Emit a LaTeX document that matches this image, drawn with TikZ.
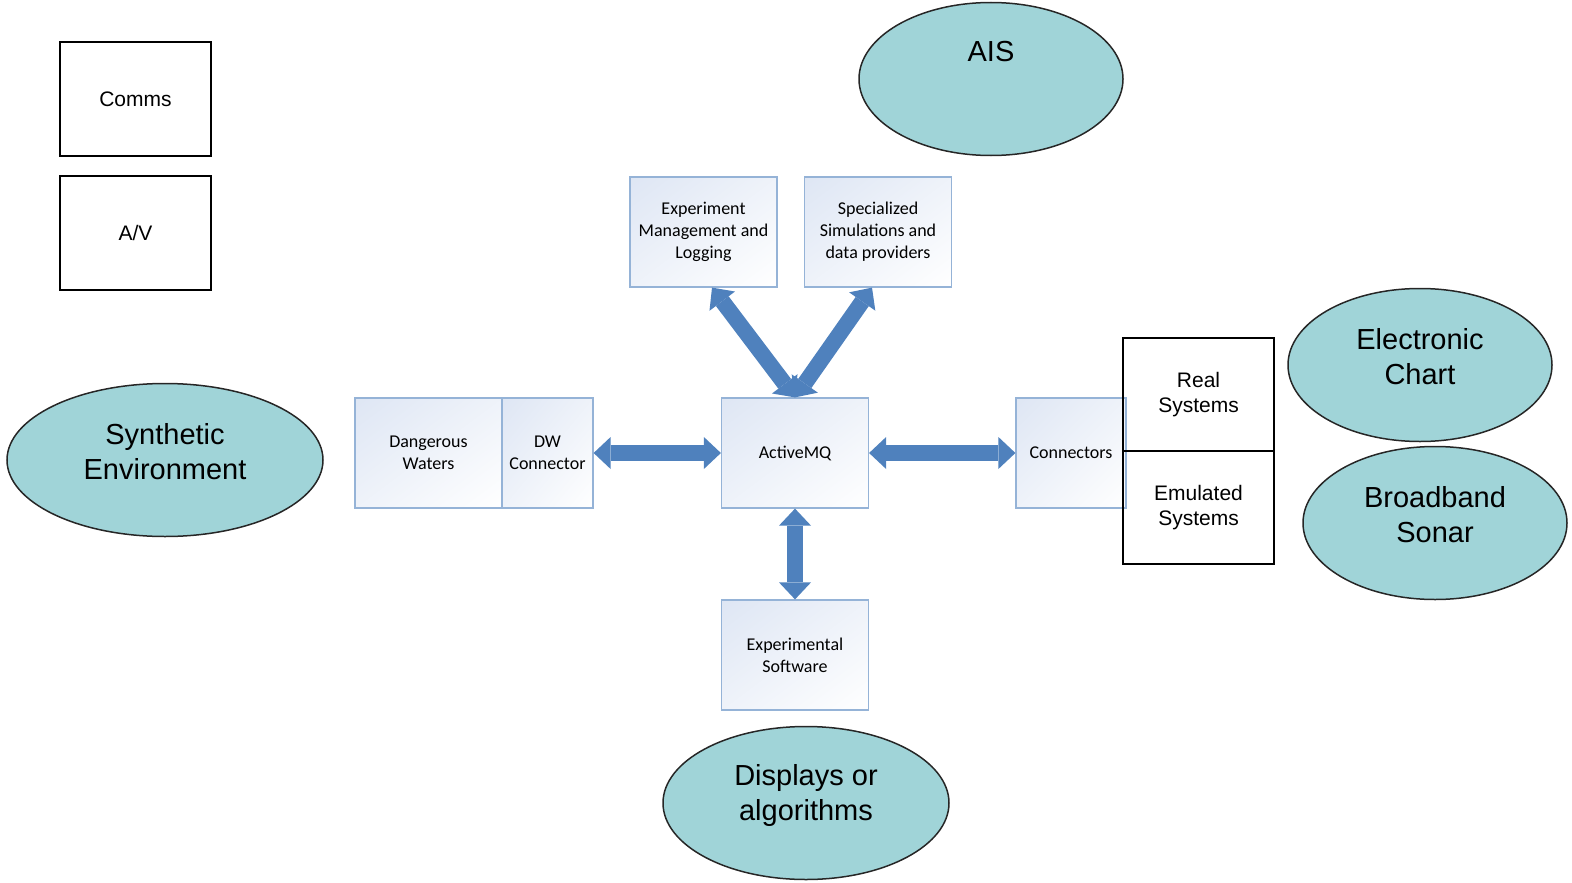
\documentclass[tikz,border=0pt]{standalone}
\usepackage{fontspec}
\setmainfont{Liberation Sans}
\newfontfamily\calibri{Carlito}
\usetikzlibrary{shapes,arrows.meta,shadings}
\definecolor{MQBlue}{RGB}{79,129,189}
\definecolor{MQEdge}{RGB}{149,179,215}
\definecolor{MQTint}{RGB}{222,230,244}
\definecolor{SeaTeal}{RGB}{160,212,216}

\begin{document}
\begin{tikzpicture}[x=1pt,y=-1pt]
				\useasboundingbox (0,0) rectangle (1572,883);
				\tikzstyle{bluebox}=[draw=MQEdge, line width=1.2pt, rectangle, minimum width=147pt, minimum height=110pt, inner sep=0pt, upper left=MQTint, upper right=MQTint!50!white, lower left=MQTint!50!white, lower right=white, align=center, font=\calibri\fontsize{18}{22}\selectfont];
				\tikzstyle{blackbox}=[draw=black, line width=2.2pt, rectangle, minimum width=151pt, minimum height=114pt, inner sep=0pt, align=center, font=\fontsize{21}{25}\selectfont];
				\tikzstyle{bubble}=[draw=black!85, line width=1.5pt, fill=SeaTeal, ellipse, minimum width=264pt, minimum height=153pt];
				\tikzstyle{bigtext}=[align=center, font=\fontsize{29}{35}\selectfont];
				\tikzstyle{pipe}=[draw=MQBlue, line width=16pt, {Triangle[width=32pt,length=17pt,line width=0pt]}-{Triangle[width=32pt,length=17pt,line width=0pt]}];
				\node [blackbox] (comms) at (135.5, 99) {Comms};
				\node [blackbox] (av) at (135.5, 233) {A/V};
				\node [bubble] (ais) at (991, 79) {};
				\node [bigtext] (t_ais) at ([yshift=27pt]ais.center) {AIS};
				\node [bubble, minimum width=316pt] (synth) at (165, 460) {};
				\node [bigtext] (t_synth) at ([yshift=8pt]synth.center) {Synthetic\\Environment};
				\node [bubble] (chart) at (1420, 365) {};
				\node [bigtext] (t_chart) at ([yshift=8pt]chart.center) {Electronic\\Chart};
				\node [bubble] (sonar) at (1435, 523) {};
				\node [bigtext] (t_sonar) at ([yshift=8pt]sonar.center) {Broadband\\Sonar};
				\node [bubble, minimum width=286pt] (disp) at (806, 803) {};
				\node [bigtext] (t_disp) at ([yshift=8pt]disp.center) {Displays or\\algorithms};
				\node [bluebox] (expmgmt) at (703.5, 232) {Experiment\\Management and\\Logging};
				\node [bluebox] (spec) at (878, 232) {Specialized\\Simulations and\\data providers};
				\node [bluebox] (dw) at (428.5, 453) {Dangerous\\Waters};
				\node [bluebox, minimum width=91pt] (dwc) at (547.5, 453) {DW\\Connector};
				\node [bluebox] (amq) at (795, 453) {ActiveMQ};
				\node [bluebox, minimum width=110pt] (conn) at (1071, 453) {Connectors};
				\node [bluebox] (expsw) at (795, 655) {Experimental\\Software};
				\node [blackbox, minimum height=113pt] (real) at (1198.5, 394.5) {Real\\Systems};
				\node [blackbox, minimum height=113pt] (emu) at (1198.5, 507.5) {Emulated\\Systems};
				\draw[pipe] (dwc.east) -- (amq.west);
				\draw[pipe] (amq.east) -- (conn.west);
				\draw[pipe] (amq.south) -- (expsw.north);
				\draw[pipe] (amq.north) -- ([xshift=8.5pt]expmgmt.south);
				\draw[pipe] (amq.north) -- ([xshift=-6pt]spec.south);
			\end{tikzpicture}
\end{document}
